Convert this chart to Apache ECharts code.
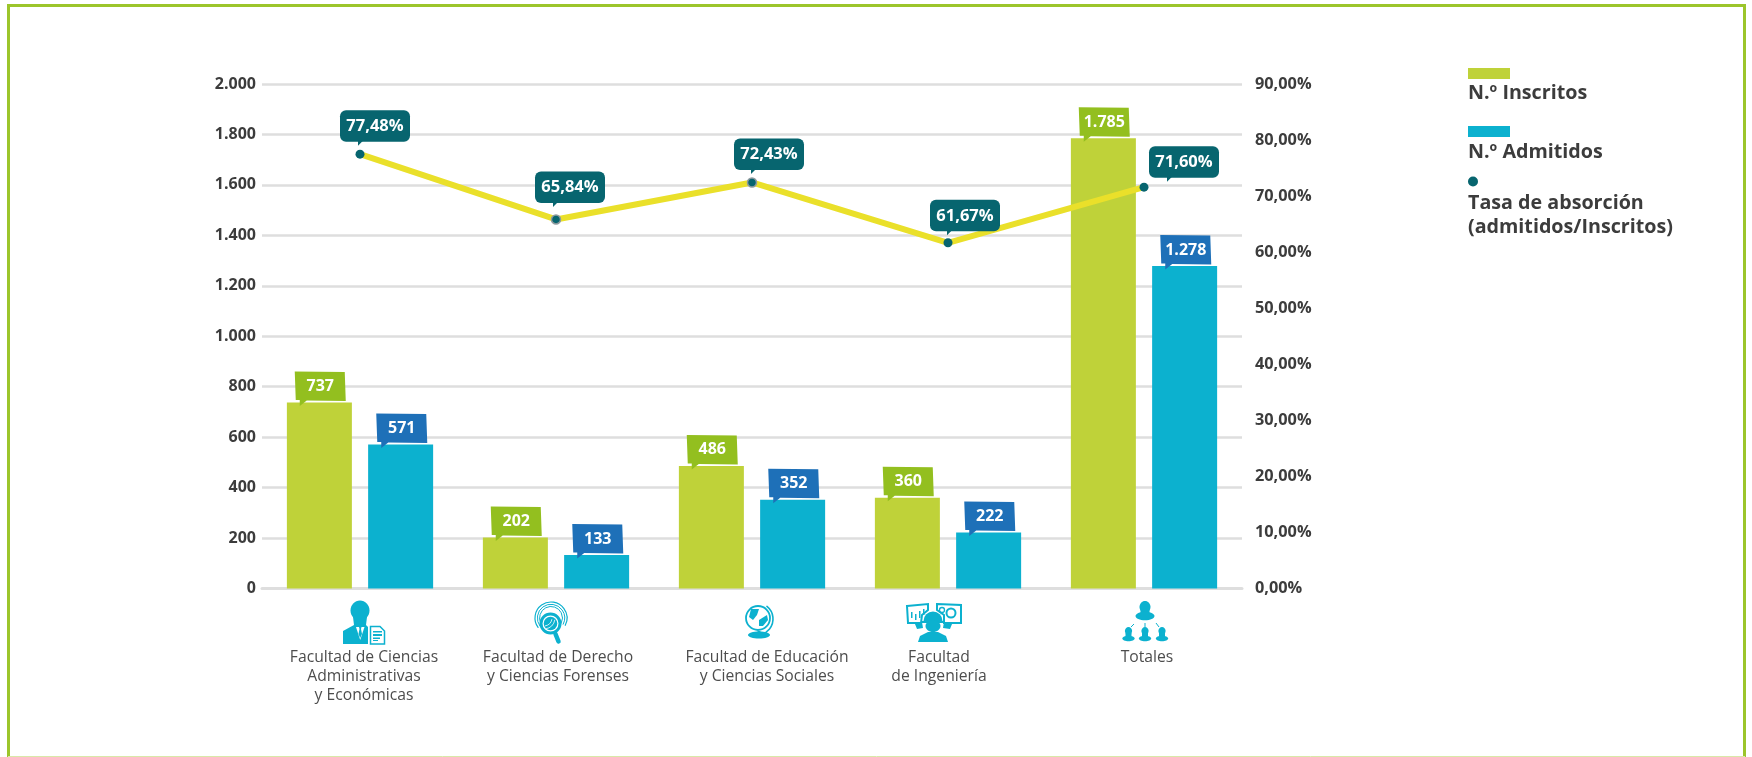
<!DOCTYPE html>
<html><head><meta charset="utf-8">
<style>html,body{margin:0;padding:0;background:#fff}#c{width:1752px;height:757px}</style>
<script src="https://cdn.jsdelivr.net/npm/echarts@6/dist/echarts.min.js"></script>
</head><body><div id="c"></div>
<script>
const categories = ['Facultad de Ciencias\nAdministrativas\ny Económicas','Facultad de Derecho\ny Ciencias Forenses','Facultad de Educación\ny Ciencias Sociales','Facultad\nde Ingeniería','Totales'];
const inscritos = [737,202,486,360,1785];
const admitidos = [571,133,352,222,1278];
const tasa = [77.48,65.84,72.43,61.67,71.60];

const labelShift = [4,2,15,-9,3];
const rateBoxShift = [-20,-21,-18,-18,5];
const rateBoxTop = [-44,-48,-44,-43,-41];
const rateTipShift = [-2,-3,-1,-1,23];
const ringed = [1,2];

const FONT = '"Open Sans"';
const GREEN='#BFD239', BLUE='#0CB1CF', TEAL='#07656F', ICON='#0CB1CF';
const fmtInt = v => String(v).replace(/\B(?=(\d{3})+$)/g,'.');
const fmtPct = v => v.toFixed(2).replace('.',',')+'%';

function barCallout(color, values, barOffset){
  return {
    type:'custom', coordinateSystem:'cartesian2d', yAxisIndex:0, z:6, silent:true, clip:false,
    data: values.map((v,i)=>[i,v]),
    renderItem(params, api){
      const p = api.coord([api.value(0), api.value(1)]);
      const x = p[0]+barOffset, y = p[1];
      return {type:'group', x, y, children:[
        {type:'polygon', shape:{points:[[8,-31],[58,-30.5],[59,-1.5],[20,-2],[13,3.5],[13,-2.5],[9,-2.5]]}, style:{fill:color}},
        {type:'text', style:{x:33.5,y:-16,text:fmtInt(api.value(1)),fill:'#fff',font:'bold 16px '+FONT,align:'center',verticalAlign:'middle'}}
      ]};
    }
  };
}
const rateCallout = {
  type:'custom', coordinateSystem:'cartesian2d', yAxisIndex:1, z:7, silent:true, clip:false,
  data: tasa.map((v,i)=>[i,v]),
  renderItem(params, api){
    const i = api.value(0);
    const p = api.coord([i, api.value(1)]);
    const dx = rateBoxShift[i], tx = rateTipShift[i];
    const top = rateBoxTop[i];
    const bot = top+31.5;
    return {type:'group', x:p[0], y:p[1], children:[
      {type:'rect', shape:{x:dx,y:top,width:70,height:31.5,r:6}, style:{fill:TEAL}},
      {type:'polygon', shape:{points:[[tx,bot-1],[tx+5,bot-1],[tx,bot+4]]}, style:{fill:TEAL}},
      {type:'text', style:{x:dx+35,y:top+16,text:fmtPct(api.value(1)),fill:'#fff',font:'bold 16.5px '+FONT,align:'center',verticalAlign:'middle'}}
    ]};
  }
};

function at(x,y,children){return {type:'group',x,y,children};}
const f = {fill:ICON};
const ln = (w,c)=>({stroke:c||ICON,lineWidth:w,fill:null,lineCap:'round'});
const icons = [
 at(335,595,[
  {type:'ellipse',shape:{cx:25,cy:15.5,rx:9.5,ry:10},style:f},
  {type:'polygon',shape:{points:[[18,22],[32,22],[31,30],[19,30]]},style:f},
  {type:'polygon',shape:{points:[[8,36],[19,30],[31,30],[33,32],[33,49],[8,49]]},style:f},
  {type:'polygon',shape:{points:[[21,32],[29.5,32],[25.2,45]]},style:{fill:'#fff'}},
  {type:'polygon',shape:{points:[[24,32],[26.5,32],[26,34],[27,39],[25.2,43],[23.5,39],[24.5,34]]},style:f},
  {type:'polygon',shape:{points:[[35.5,31.5],[45,31.5],[49.5,36],[49.5,49],[35.5,49]]},style:{fill:'#fff',stroke:ICON,lineWidth:1.5}},
  {type:'rect',shape:{x:38,y:36,width:9,height:1.5},style:f},
  {type:'rect',shape:{x:38,y:39,width:9,height:2},style:f},
  {type:'rect',shape:{x:38,y:42.5,width:7,height:1.5},style:f},
  {type:'rect',shape:{x:38,y:45,width:5,height:1},style:f}
 ]),
 at(525,595,[
  {type:'arc',shape:{cx:26,cy:23,r:11.5,startAngle:Math.PI*0.85,endAngle:Math.PI*2.15},style:ln(1)},
  {type:'arc',shape:{cx:26,cy:23,r:13.7,startAngle:Math.PI*0.8,endAngle:Math.PI*2.15},style:ln(1)},
  {type:'arc',shape:{cx:26,cy:23,r:16,startAngle:Math.PI*0.8,endAngle:Math.PI*2.15},style:ln(1.2)},
  {type:'circle',shape:{cx:25.5,cy:28.5,r:9.5},style:{fill:'#fff',stroke:ICON,lineWidth:3}},
  {type:'circle',shape:{cx:25.5,cy:28.5,r:6.8},style:f},
  {type:'arc',shape:{cx:19,cy:23,r:8,startAngle:0.2,endAngle:1.4},style:ln(0.8,'#fff')},
  {type:'arc',shape:{cx:19,cy:23,r:11,startAngle:0.2,endAngle:1.4},style:ln(0.8,'#fff')},
  {type:'line',shape:{x1:30.5,y1:39,x2:33.5,y2:46.5},style:{stroke:ICON,lineWidth:4.5,lineCap:'round'}}
 ]),
 at(730,595,[
  {type:'circle',shape:{cx:28,cy:23,r:12},style:{fill:'#fff',stroke:ICON,lineWidth:1.8}},
  {type:'polygon',shape:{points:[[21,14],[29,14],[27,20],[23,25],[19,22]]},style:f},
  {type:'polygon',shape:{points:[[29,25],[37,20],[38,25],[33,31],[29,31]]},style:f},
  {type:'arc',shape:{cx:27,cy:24,r:16,startAngle:-0.9,endAngle:1.9},style:ln(1.6)},
  {type:'line',shape:{x1:29,y1:39,x2:29,y2:36},style:{stroke:ICON,lineWidth:3}},
  {type:'ellipse',shape:{cx:29,cy:40,rx:11,ry:3.5},style:f}
 ]),
 at(895,595,[
  {type:'polygon',shape:{points:[[12,11],[33,9],[33,15],[27,20],[26,28],[13,28]]},style:{fill:'#fff',stroke:ICON,lineWidth:2}},
  {type:'polygon',shape:{points:[[42,9],[66,10],[66,28],[49,28],[49,20],[42,15]]},style:{fill:'#fff',stroke:ICON,lineWidth:2}},
  {type:'polygon',shape:{points:[[20,29],[27,27],[28,33],[22,34]]},style:f},
  {type:'polygon',shape:{points:[[49,27],[57,29],[55,34],[48,33]]},style:f},
  {type:'rect',shape:{x:16,y:17,width:1.5,height:6},style:f},
  {type:'rect',shape:{x:20,y:19,width:1.5,height:6},style:f},
  {type:'rect',shape:{x:24,y:16,width:1.5,height:7},style:f},
  {type:'rect',shape:{x:28,y:14,width:1.5,height:6},style:f},
  {type:'circle',shape:{cx:47,cy:15,r:2.5},style:ln(1.3)},
  {type:'circle',shape:{cx:56,cy:18,r:4.5},style:ln(2)},
  {type:'sector',shape:{cx:38,cy:26,r:9.5,r0:0,startAngle:Math.PI,endAngle:Math.PI*2},style:f},
  {type:'rect',shape:{x:27,y:26,width:22,height:2},style:f},
  {type:'ellipse',shape:{cx:38,cy:31,rx:7.5,ry:6},style:f},
  {type:'polygon',shape:{points:[[23,47],[25,41],[33,37],[43,37],[51,41],[53,47]]},style:f}
 ]),
 at(1115,595,[
  {type:'ellipse',shape:{cx:30,cy:12,rx:5.5,ry:6},style:f},
  {type:'rect',shape:{x:25.5,y:14,width:9,height:6},style:f},
  {type:'ellipse',shape:{cx:30,cy:21,rx:9.5,ry:4.3},style:f},
  {type:'line',shape:{x1:19,y1:29,x2:16,y2:32},style:{stroke:ICON,lineWidth:1}},
  {type:'line',shape:{x1:30,y1:28,x2:30,y2:32},style:{stroke:ICON,lineWidth:1}},
  {type:'line',shape:{x1:41,y1:28,x2:44,y2:32},style:{stroke:ICON,lineWidth:1}}
 ].concat([13.5,30,47].flatMap(cx=>[
  {type:'ellipse',shape:{cx,cy:36,rx:3.6,ry:4},style:f},
  {type:'polygon',shape:{points:[[cx-3,38],[cx+3,38],[cx+3,42],[cx-3,42]]},style:f},
  {type:'ellipse',shape:{cx,cy:43.5,rx:6.2,ry:2.8},style:f}
 ])))
];

const legendFont = 'bold 19.7px '+FONT;
const legendGraphic = [
  {type:'rect',shape:{x:1468,y:68,width:42,height:11},style:{fill:GREEN}},
  {type:'text',style:{x:1468,y:93,text:'N.º Inscritos',font:legendFont,fill:'#3c3c3c',verticalAlign:'middle'}},
  {type:'rect',shape:{x:1468,y:126,width:42,height:11},style:{fill:BLUE}},
  {type:'text',style:{x:1468,y:152,text:'N.º Admitidos',font:legendFont,fill:'#3c3c3c',verticalAlign:'middle'}},
  {type:'circle',shape:{cx:1473,cy:181.5,r:5},style:{fill:TEAL}},
  {type:'text',style:{x:1468,y:203.5,text:'Tasa de absorción',font:legendFont,fill:'#3c3c3c',verticalAlign:'middle'}},
  {type:'text',style:{x:1468,y:227.5,text:'(admitidos/Inscritos)',font:legendFont,fill:'#3c3c3c',verticalAlign:'middle'}}
];
const frame = [
  {type:'rect',z:-1,shape:{x:8.5,y:5.5,width:1736,height:760},style:{fill:'#fff',stroke:'#9CC52B',lineWidth:3}},
  {type:'line',z:-1,shape:{x1:8,y1:756.5,x2:1745,y2:756.5},style:{stroke:'#D9E8A8',lineWidth:1}}
];

const chart = echarts.init(document.getElementById('c'));
chart.setOption({
  backgroundColor:'#fff', animation:false, textStyle:{fontFamily:FONT},
  grid:{left:262,width:980,top:84,height:504.5},
  xAxis:{type:'category',
    data:categories.map((c,i)=>{const d=labelShift[i];return {value:c,textStyle:{padding:d>=0?[0,0,0,2*d]:[0,-2*d,0,0]}};}),
    axisTick:{show:false},
    axisLine:{lineStyle:{color:'#DEDEDE',width:3}},
    axisLabel:{interval:0,margin:60,color:'#4d4d4d',fontFamily:FONT,fontSize:15.7,lineHeight:19,verticalAlign:'top'}},
  yAxis:[
    {type:'value',min:0,max:2000,interval:200,
     axisLine:{show:false},axisTick:{show:false},
     splitLine:{lineStyle:{color:'#DEDEDE',width:2.5}},
     axisLabel:{margin:6,color:'#3c3c3c',fontFamily:FONT,fontWeight:'bold',fontSize:16,formatter:fmtInt}},
    {type:'value',min:0,max:90,interval:10,
     axisLine:{show:false},axisTick:{show:false},splitLine:{show:false},
     axisLabel:{margin:13,color:'#3c3c3c',fontFamily:FONT,fontWeight:'bold',fontSize:16.3,formatter:v=>fmtPct(v)}}
  ],
  graphic:{elements:frame.concat(icons,legendGraphic)},
  series:[
    {name:'N.º Inscritos',type:'bar',data:inscritos,barWidth:65,barGap:'25%',itemStyle:{color:GREEN},z:2},
    {name:'N.º Admitidos',type:'bar',data:admitidos,barWidth:65,barGap:'25%',itemStyle:{color:BLUE},z:2},
    {name:'Tasa de absorción (admitidos/Inscritos)',type:'line',yAxisIndex:1,z:4,
     data:tasa.map((v,i)=>({value:v,itemStyle:ringed.includes(i)?{borderColor:'#8e9a9e',borderWidth:1.5}:{}})),
     lineStyle:{color:'#EAE02A',width:6},symbol:'circle',symbolSize:9,itemStyle:{color:TEAL}},
    barCallout('#93BF1F',inscritos,-73.25),
    barCallout('#1E70B8',admitidos,8.25),
    rateCallout
  ]
});
</script></body></html>
